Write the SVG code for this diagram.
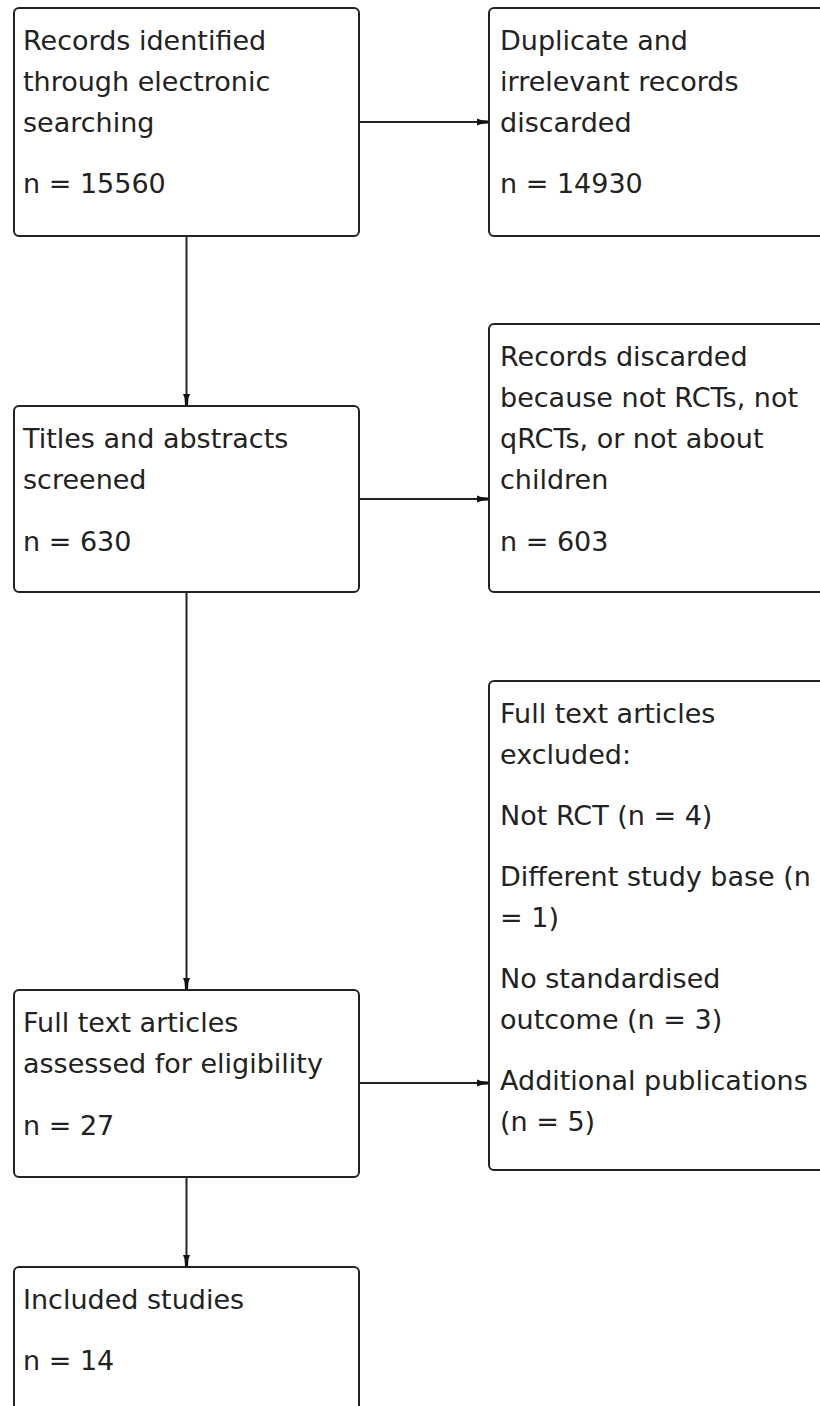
<svg xmlns="http://www.w3.org/2000/svg" width="820" height="1406" viewBox="0 0 820 1406">
<defs>
<style>
.box{fill:#fff;stroke:#222;stroke-width:2}
.t{font-family:"DejaVu Sans",sans-serif;font-size:27px;fill:#222}
.c{stroke:#222;stroke-width:2;fill:none}
</style>
<marker id="ah" viewBox="0 0 11 9" refX="11" refY="4.5" markerWidth="11" markerHeight="9" markerUnits="userSpaceOnUse" orient="auto">
<path d="M0,1 L4,2.5 L11,3 L11,6 L4,6.5 L0,8 Z" fill="#111"/>
</marker>
</defs>
<rect width="820" height="1406" fill="#fff"/>
<g id="connectors">
<line class="c" x1="359" y1="122" x2="488" y2="122" marker-end="url(#ah)"/>
<line class="c" x1="186.5" y1="236" x2="186.5" y2="405" marker-end="url(#ah)"/>
<line class="c" x1="359" y1="499" x2="488" y2="499" marker-end="url(#ah)"/>
<line class="c" x1="186.5" y1="592" x2="186.5" y2="989" marker-end="url(#ah)"/>
<line class="c" x1="359" y1="1083" x2="488" y2="1083" marker-end="url(#ah)"/>
<line class="c" x1="186.5" y1="1177" x2="186.5" y2="1266" marker-end="url(#ah)"/>
</g>
<g id="n1">
<rect class="box" x="14" y="8" width="345" height="228" rx="5"/>
<text class="t" x="23" y="50">Records identified</text>
<text class="t" x="23" y="91">through electronic</text>
<text class="t" x="23" y="132">searching</text>
<text class="t" x="23" y="193">n = 15560</text>
</g>
<g id="n2">
<rect class="box" x="489" y="8" width="345" height="228" rx="5"/>
<text class="t" x="500" y="50">Duplicate and</text>
<text class="t" x="500" y="91">irrelevant records</text>
<text class="t" x="500" y="132">discarded</text>
<text class="t" x="500" y="193">n = 14930</text>
</g>
<g id="n3">
<rect class="box" x="14" y="406" width="345" height="186" rx="5"/>
<text class="t" x="23" y="448">Titles and abstracts</text>
<text class="t" x="23" y="489">screened</text>
<text class="t" x="23" y="551">n = 630</text>
</g>
<g id="n4">
<rect class="box" x="489" y="324" width="345" height="268" rx="5"/>
<text class="t" x="500" y="366">Records discarded</text>
<text class="t" x="500" y="407">because not RCTs, not</text>
<text class="t" x="500" y="448">qRCTs, or not about</text>
<text class="t" x="500" y="489">children</text>
<text class="t" x="500" y="551">n = 603</text>
</g>
<g id="n5">
<rect class="box" x="489" y="681" width="345" height="489" rx="5"/>
<text class="t" x="500" y="723">Full text articles</text>
<text class="t" x="500" y="764">excluded:</text>
<text class="t" x="500" y="825">Not RCT (n = 4)</text>
<text class="t" x="500" y="886">Different study base (n</text>
<text class="t" x="500" y="927">= 1)</text>
<text class="t" x="500" y="988">No standardised</text>
<text class="t" x="500" y="1029">outcome (n = 3)</text>
<text class="t" x="500" y="1090">Additional publications</text>
<text class="t" x="500" y="1131">(n = 5)</text>
</g>
<g id="n6">
<rect class="box" x="14" y="990" width="345" height="187" rx="5"/>
<text class="t" x="23" y="1032">Full text articles</text>
<text class="t" x="23" y="1073">assessed for eligibility</text>
<text class="t" x="23" y="1135">n = 27</text>
</g>
<g id="n7">
<rect class="box" x="14" y="1267" width="345" height="160" rx="5"/>
<text class="t" x="23" y="1309">Included studies</text>
<text class="t" x="23" y="1370">n = 14</text>
</g>
</svg>
